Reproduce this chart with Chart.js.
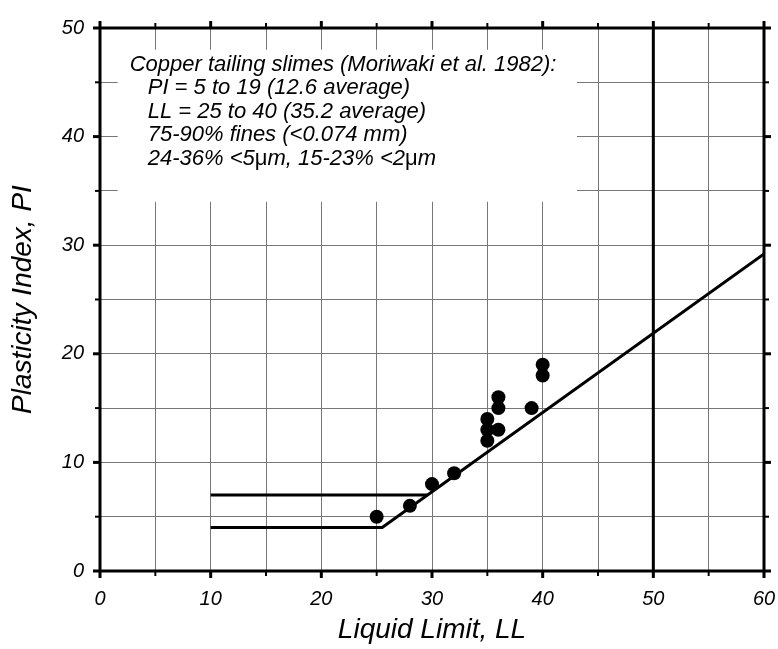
<!DOCTYPE html>
<html>
<head>
<meta charset="utf-8">
<script src="https://cdn.jsdelivr.net/npm/chart.js@4.4.1/dist/chart.umd.min.js"></script>
<style>
  html, body { margin: 0; padding: 0; background: #fff; }
</style>
</head>
<body>
<canvas id="plasticityChart" width="778" height="649"></canvas>
<script>
// tailing slime samples (Moriwaki et al. 1982)
let tailingLL = [25, 28, 30, 32, 35, 35, 35, 36, 36, 36, 39, 40, 40];
let tailingPI = [5, 6, 8, 9, 12, 13, 14, 13, 15, 16, 15, 18, 19];

// A-line with the lower CL-ML limit (PI = 4), and upper limit PI = 7
let aLineLL = [10, 25.5, 60];
let aLinePI = [4, 4, 29.2];
let upperLL = [10, 29.6];
let upperPI = [7, 7];
// LL = 50 boundary
let boundLL = [50, 50];
let boundPI = [0, 50];

let xTickLabels = [0, 10, 20, 30, 40, 50, 60];
let yTickLabels = [0, 10, 20, 30, 40, 50];

let noteLines = [
    [['Copper tailing slimes (Moriwaki et al. 1982):', true]],
    [['PI = 5 to 19 (12.6 average)', true]],
    [['LL = 25 to 40 (35.2 average)', true]],
    [['75-90% fines (<0.074 mm)', true]],
    [['24-36% <5', true], ['\u03bc', false], ['m, 15-23% <2', true], ['\u03bc', false], ['m', true]]
];

let fontFamily = "'Liberation Sans', Arial, Helvetica, sans-serif";

let toXY = function (xs, ys) {
    return xs.map((v, i) => ({ x: v, y: ys[i] }));
};

let lineStyle = {
    type: 'scatter',
    showLine: true,
    borderColor: '#000',
    borderWidth: 3,
    pointRadius: 0,
    fill: false,
    tension: 0
};

// white note box over the grid
let notePlugin = {
    id: 'note',
    beforeDatasetsDraw(chart) {
        let ctx = chart.ctx;
        let x = chart.scales.x, y = chart.scales.y;
        let left = x.getPixelForValue(1.6), right = x.getPixelForValue(43.1);
        let top = y.getPixelForValue(48), bottom = y.getPixelForValue(34);
        ctx.save();
        ctx.fillStyle = '#fff';
        ctx.fillRect(left, top, right - left, bottom - top);
        ctx.fillStyle = '#000';
        ctx.textBaseline = 'alphabetic';
        noteLines.forEach((segs, i) => {
            let tx = left + (i === 0 ? 12 : 30);
            let ty = top + 21 + i * 23.5;
            segs.forEach(s => {
                ctx.font = (s[1] ? 'italic ' : '') + '22px ' + fontFamily;
                ctx.fillText(s[0], tx, ty);
                tx += ctx.measureText(s[0]).width;
            });
        });
        ctx.restore();
    }
};

// heavy frame and outward tick marks on all four sides
let framePlugin = {
    id: 'frame',
    afterDraw(chart) {
        let ctx = chart.ctx;
        let a = chart.chartArea;
        let x = chart.scales.x, y = chart.scales.y;
        ctx.save();
        ctx.strokeStyle = '#000';
        ctx.lineCap = 'butt';
        let seg = function (x1, y1, x2, y2, w) {
            ctx.lineWidth = w;
            ctx.beginPath();
            ctx.moveTo(x1, y1);
            ctx.lineTo(x2, y2);
            ctx.stroke();
        };
        x.ticks.forEach(t => {
            let px = x.getPixelForValue(t.value);
            let major = t.value % 10 === 0;
            let len = major ? 7 : 5;
            let w = major ? 3 : 2;
            seg(px, a.bottom, px, a.bottom + len, w);
            seg(px, a.top, px, a.top - len, w);
        });
        y.ticks.forEach(t => {
            let py = y.getPixelForValue(t.value);
            let major = t.value % 10 === 0;
            let len = major ? 7 : 5;
            let w = major ? 3 : 2;
            seg(a.left, py, a.left - len, py, w);
            seg(a.right, py, a.right + len, py, w);
        });
        ctx.lineWidth = 3;
        ctx.strokeRect(a.left, a.top, a.right - a.left, a.bottom - a.top);
        ctx.restore();
    }
};

let chartDraw = function () {
    let ctx = document.getElementById('plasticityChart').getContext('2d');
    let tickFont = { family: fontFamily, style: 'italic', size: 20 };
    let titleFont = { family: fontFamily, style: 'italic', size: 28 };

    window.plasticityChart = new Chart(ctx, {
        type: 'scatter',
        data: {
            datasets: [
                Object.assign({ label: 'A-line', data: toXY(aLineLL, aLinePI) }, lineStyle),
                Object.assign({ label: 'PI = 7', data: toXY(upperLL, upperPI) }, lineStyle),
                Object.assign({ label: 'LL = 50', data: toXY(boundLL, boundPI) }, lineStyle),
                {
                    label: 'Copper tailing slimes',
                    data: toXY(tailingLL, tailingPI),
                    backgroundColor: '#000',
                    borderWidth: 0,
                    pointRadius: 7,
                    pointHoverRadius: 7
                }
            ]
        },
        options: {
            responsive: false,
            animation: false,
            events: [],
            layout: { padding: { top: 17, right: 0, left: 0, bottom: 0 } },
            plugins: {
                legend: { display: false },
                tooltip: { enabled: false }
            },
            scales: {
                x: {
                    type: 'linear',
                    min: 0,
                    max: 60,
                    afterFit: s => { s.height = 78; s.paddingRight = 14; },
                    ticks: {
                        stepSize: 5,
                        autoSkip: false,
                        maxRotation: 0,
                        padding: 16,
                        color: '#000',
                        font: tickFont,
                        callback: v => xTickLabels.includes(v) ? String(v) : ''
                    },
                    grid: { color: '#777', lineWidth: 1, drawTicks: false },
                    border: { display: false },
                    title: {
                        display: true,
                        text: 'Liquid Limit, LL',
                        color: '#000',
                        font: titleFont,
                        padding: { top: 0, bottom: 2 }
                    }
                },
                y: {
                    type: 'linear',
                    min: 0,
                    max: 50,
                    afterFit: s => { s.width = 100; },
                    ticks: {
                        stepSize: 5,
                        autoSkip: false,
                        padding: 16,
                        color: '#000',
                        font: tickFont,
                        callback: v => yTickLabels.includes(v) ? String(v) : ''
                    },
                    grid: { color: '#777', lineWidth: 1, drawTicks: false },
                    border: { display: false },
                    title: {
                        display: true,
                        text: 'Plasticity Index, PI',
                        color: '#000',
                        font: titleFont,
                        padding: { top: 6, bottom: 0 }
                    }
                }
            }
        },
        plugins: [notePlugin, framePlugin]
    });
};

window.addEventListener('load', function () {
    chartDraw();
});
</script>
</body>
</html>
